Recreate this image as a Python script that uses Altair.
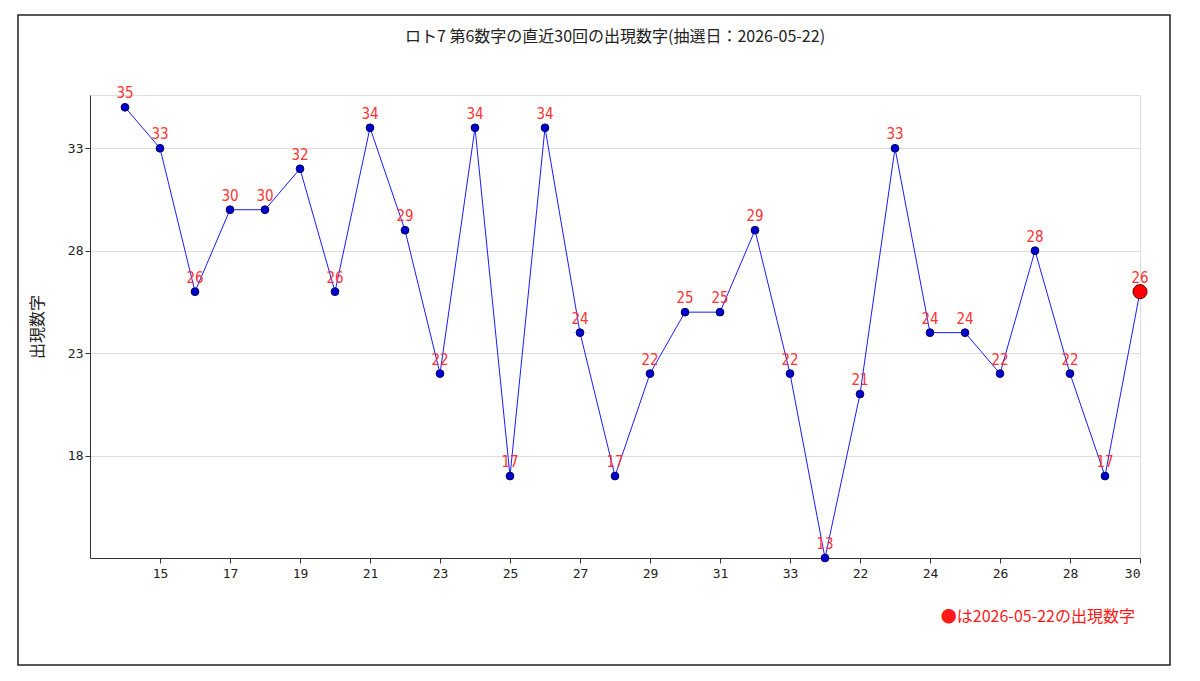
import altair as alt
import pandas as pd

labels = ["14","15","16","17","18","19","20","21","22","23","24","25","26","27","28","29","30","31","32","33",
          "21","22","23","24","25","26","27","28","29","30"]
values = [35,33,26,30,30,32,26,34,29,22,34,17,34,24,17,22,25,25,29,22,13,21,33,24,24,22,28,22,17,26]
title_text = "ロト7 第6数字の直近30回の出現数字(抽選日：2026-05-22)"
note_text = "●は2026-05-22の出現数字"

df = pd.DataFrame({"idx": list(range(1, 31)), "lab": labels, "v": values})
df["last"] = df["idx"] == 30

label_js = "[" + ",".join('"%s"' % l for l in labels) + "]"

x = alt.X("idx:Q", scale=alt.Scale(domain=[0, 30], nice=False),
          axis=alt.Axis(values=list(range(2, 31, 2)), labelExpr=label_js + "[datum.value-1]",
                        title=None, grid=False, labelFont="DejaVu Sans Mono", labelFontSize=13,
                        labelColor="#222", domainColor="#333", tickColor="#333", labelPadding=4))
y = alt.Y("v:Q", scale=alt.Scale(domain=[13, 35.6], nice=False, zero=False),
          axis=alt.Axis(values=[18, 23, 28, 33], title="出現数字", titleFont="Noto Sans CJK JP",
                        titleFontSize=16, titleFontWeight="normal", titleColor="#222",
                        labelFont="DejaVu Sans Mono", labelFontSize=13, labelColor="#222",
                        gridColor="#dddddd", domainColor="#333", tickColor="#333", titlePadding=22))

base = alt.Chart(df)
line = base.mark_line(color="#1a1aff", strokeWidth=1).encode(x=x, y=y)
pts = base.transform_filter("!datum.last").mark_point(filled=True, size=60, color="#0000cc", opacity=1,
        stroke="#000066", strokeWidth=1).encode(x="idx:Q", y="v:Q")
lastpt = base.transform_filter("datum.last").mark_point(filled=True, size=200, color="#ff0000", opacity=1,
        stroke="#660000", strokeWidth=1).encode(x="idx:Q", y="v:Q")
txt = base.mark_text(dy=-14, color="#ff3333", fontSize=15, font="DejaVu Sans Condensed").encode(
    x="idx:Q", y="v:Q", text="v:Q")
note = alt.Chart(pd.DataFrame({"t": [note_text]})).mark_text(
    color="#ff1a1a", fontSize=16, font="Noto Sans CJK JP", align="right").encode(
    x=alt.value(1045), y=alt.value(522), text="t:N")
ttl = alt.Chart(pd.DataFrame({"t": [title_text]})).mark_text(
    color="#222", fontSize=16, font="Noto Sans CJK JP", align="center").encode(
    x=alt.value(525), y=alt.value(-58), text="t:N")
border = alt.Chart(pd.DataFrame({"a": [0]})).mark_rect(fill=None, stroke="#222", strokeWidth=1.5).encode(
    x=alt.value(-72), x2=alt.value(1080), y=alt.value(-80), y2=alt.value(570))

chart = alt.layer(border, line, pts, lastpt, txt, note, ttl).properties(
    width=1050, height=463,
    autosize="none",
    padding={"left": 82, "top": 87, "right": 52, "bottom": 115},
).configure_view(strokeWidth=0, stroke="transparent").configure(background="white")

chart.save("out.html", embed_options={"renderer": "svg", "actions": False})
